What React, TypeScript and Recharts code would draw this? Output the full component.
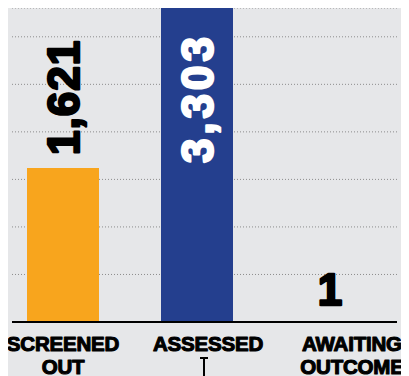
import React from 'react';
import { BarChart, Bar, XAxis, YAxis, CartesianGrid, Cell, LabelList } from 'recharts';

const categories = ['SCREENED OUT', 'ASSESSED', 'AWAITING OUTCOME'];
const counts = [1621, 3303, 1];
const gridTicks = [0, 500, 1000, 1500, 2000, 2500, 3000];

const colors = ['#F8A51D', '#243F8E', '#243F8E'];
const BG = '#E6E7E9';

const data = categories.map((name, i) => ({ name, value: counts[i] }));

const numFont = '"Liberation Sans", Arial, sans-serif';
const FS = 44;
const CAP = FS * 0.716;

// how each value label sits: above the bar rotated, inside rotated, or flat above
const labelModes = [
  { mode: 'rotAbove', fill: '#000', spacing: 1 },
  { mode: 'rotInside', fill: '#fff', spacing: 4 },
  { mode: 'flatAbove', fill: '#000', spacing: 0 },
];

function ValueLabel(props: any) {
  const { x, y, width, value, index } = props;
  const cfg = labelModes[index];
  const cx = x + width / 2;
  const text = Number(value).toLocaleString('en-US');
  const common = {
    fontFamily: numFont,
    fontSize: FS,
    fontWeight: 700,
    fill: cfg.fill,
    stroke: cfg.fill,
    strokeWidth: 2.4,
    strokeLinejoin: 'round' as const,
    letterSpacing: cfg.spacing,
  };
  if (cfg.mode === 'flatAbove') {
    return (
      <text x={cx - 1} y={y - 17} textAnchor="middle" {...common}>
        {text}
      </text>
    );
  }
  const bx = cx + CAP / 2;
  const by = cfg.mode === 'rotAbove' ? y - 13 : y + 25;
  return (
    <text
      x={bx}
      y={by}
      textAnchor={cfg.mode === 'rotAbove' ? 'start' : 'end'}
      transform={`rotate(-90, ${bx}, ${by})`}
      {...common}
    >
      {text}
    </text>
  );
}

const tickShift = [0, 11, 21];

function CategoryTick(props: any) {
  const { x, payload, index } = props;
  const axisY = 322;
  const words = String(payload.value).split(' ');
  const cx = x + tickShift[index];
  return (
    <g>
      <text
        textAnchor="middle"
        fontFamily={numFont}
        fontSize={20.5}
        fontWeight={700}
        fill="#000"
        stroke="#000"
        strokeWidth={1.1}
        strokeLinejoin="round"
        letterSpacing={-0.2}
      >
        {words.map((w, i) => (
          <tspan key={i} x={cx} y={axisY + 29 + i * 22.5}>
            {w}
          </tspan>
        ))}
      </text>
      {index === 1 && (
        <g stroke="#000" strokeWidth={2}>
          <line x1={cx - 4} x2={cx - 4} y1={357} y2={376} />
          <line x1={cx - 8} x2={cx} y1={358} y2={358} />
        </g>
      )}
    </g>
  );
}

export default function App() {
  return (
    <div style={{ width: 409, height: 376, marginLeft: -8, marginTop: -8, background: BG }}>
      <BarChart
        width={409}
        height={376}
        data={data}
        margin={{ top: 8, right: 12, left: 12, bottom: 4 }}
        barSize={72}
      >
        <CartesianGrid vertical={false} stroke="#8C8C8C" strokeDasharray="1 2" />
        <YAxis hide domain={[0, 3303]} ticks={gridTicks} />
        <XAxis
          dataKey="name"
          height={50}
          tickLine={false}
          axisLine={{ stroke: '#000', strokeWidth: 2 }}
          padding={{ left: -16, right: -1 }}
          interval={0}
          tick={<CategoryTick />}
        />
        <Bar dataKey="value" isAnimationActive={false}>
          {data.map((d, i) => (
            <Cell key={d.name} fill={colors[i]} />
          ))}
          <LabelList dataKey="value" content={<ValueLabel />} />
        </Bar>
      </BarChart>
    </div>
  );
}
